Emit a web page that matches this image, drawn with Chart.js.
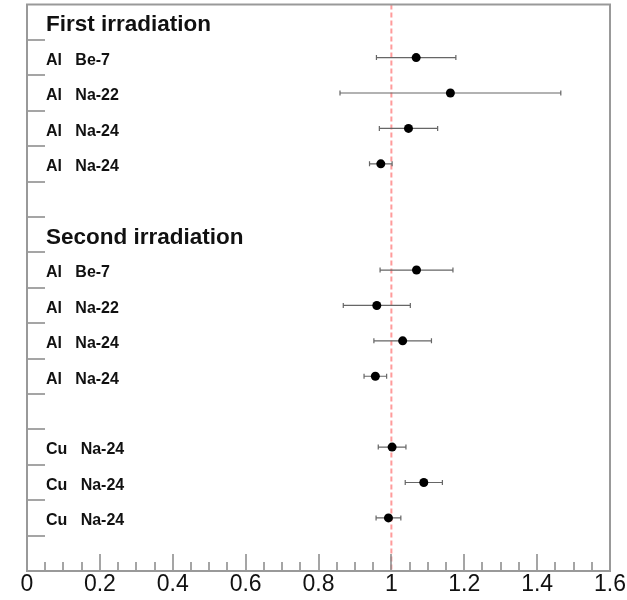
<!DOCTYPE html>
<html>
<head>
<meta charset="utf-8">
<script src="https://cdn.jsdelivr.net/npm/chart.js@4/dist/chart.umd.min.js"></script>
<style>
html,body{margin:0;padding:0;background:#fff;}
#wrap{width:627px;height:600px;position:relative;}
</style>
</head>
<body>
<div id="wrap"><canvas id="c" width="627" height="600"></canvas></div>
<script>
// ---- data ----
const categories = [
  "First irradiation", "Al   Be-7", "Al   Na-22", "Al   Na-24", "Al   Na-24", "",
  "Second irradiation", "Al   Be-7", "Al   Na-22", "Al   Na-24", "Al   Na-24", "",
  "Cu   Na-24", "Cu   Na-24", "Cu   Na-24", ""
];
const headings = ["First irradiation", "Second irradiation"];
const ratios = [null, 1.068, 1.162, 1.047, 0.971, null,
                null, 1.069, 0.960, 1.031, 0.956, null,
                1.002, 1.089, 0.992, null];
const errors = [null, 0.109, 0.303, 0.080, 0.031, null,
                null, 0.100, 0.092, 0.079, 0.031, null,
                0.038, 0.051, 0.034, null];
const xMin = 0, xMax = 1.6, xMajorStep = 0.2, xMinorStep = 0.05;
const referenceValue = 1.0;

// ---- plugins ----
const decor = {
  id: 'decor',
  beforeDatasetsDraw(chart) {
    const {ctx, chartArea: a, scales: {x, y}} = chart;
    ctx.save();
    // reference dashed line
    const rx = x.getPixelForValue(referenceValue);
    ctx.strokeStyle = 'rgba(255,130,130,0.8)';
    ctx.lineWidth = 2;
    ctx.setLineDash([5, 3]);
    ctx.beginPath(); ctx.moveTo(rx, a.top); ctx.lineTo(rx, a.bottom); ctx.stroke();
    ctx.setLineDash([]);
    // error bars
    ctx.strokeStyle = '#666';
    ctx.lineWidth = 1.2;
    ratios.forEach((v, i) => {
      if (v === null) return;
      const py = y.getPixelForValue(i);
      const x1 = x.getPixelForValue(v - errors[i]);
      const x2 = x.getPixelForValue(v + errors[i]);
      ctx.beginPath();
      ctx.moveTo(x1, py); ctx.lineTo(x2, py);
      ctx.moveTo(x1, py - 2.5); ctx.lineTo(x1, py + 2.5);
      ctx.moveTo(x2, py - 2.5); ctx.lineTo(x2, py + 2.5);
      ctx.stroke();
    });
    ctx.restore();
  },
  afterDraw(chart) {
    const {ctx, chartArea: a, scales: {x, y}} = chart;
    ctx.save();
    // inward ticks
    ctx.strokeStyle = '#888';
    ctx.lineWidth = 1.5;
    ctx.beginPath();
    const nMinor = Math.round((xMax - xMin) / xMinorStep);
    for (let k = 1; k < nMinor; k++) {
      const v = xMin + k * xMinorStep;
      const px = Math.round(x.getPixelForValue(v));
      const major = (k % Math.round(xMajorStep / xMinorStep)) === 0;
      ctx.moveTo(px, a.bottom);
      ctx.lineTo(px, a.bottom - (major ? 17 : 9));
    }
    for (let i = 1; i < categories.length; i++) {
      const py = Math.round((y.getPixelForValue(i - 1) + y.getPixelForValue(i)) / 2);
      ctx.moveTo(a.left, py);
      ctx.lineTo(a.left + 18, py);
    }
    ctx.stroke();
    // frame
    ctx.strokeStyle = '#999';
    ctx.lineWidth = 2;
    ctx.strokeRect(a.left, a.top, a.right - a.left, a.bottom - a.top);
    ctx.restore();
  }
};

new Chart(document.getElementById('c'), {
  type: 'line',
  data: {
    labels: categories,
    datasets: [{
      data: ratios,
      showLine: false,
      pointRadius: 4.5,
      pointHoverRadius: 4.5,
      pointBackgroundColor: '#000',
      pointBorderColor: '#000',
      pointBorderWidth: 0
    }]
  },
  options: {
    indexAxis: 'y',
    responsive: false,
    animation: false,
    events: [],
    layout: {padding: {left: 27, top: 4, right: 17, bottom: 1.4}},
    plugins: {legend: {display: false}, tooltip: {enabled: false}},
    scales: {
      x: {
        type: 'linear',
        min: xMin, max: xMax,
        grid: {display: false, drawTicks: false},
        border: {display: false},
        ticks: {
          stepSize: xMajorStep,
          padding: 0,
          color: '#111',
          font: {family: 'Liberation Sans, Arial, sans-serif', size: 23},
          callback: (v) => (Math.round(v * 10) / 10).toString()
        }
      },
      y: {
        type: 'category',
        offset: true,
        grid: {display: false, drawTicks: false},
        border: {display: false},
        afterFit(s) { s.width = 0; s.paddingTop = 0; s.paddingBottom = 0; },
        ticks: {
          mirror: true,
          padding: 19,
          labelOffset: 3,
          color: '#111',
          autoSkip: false,
          font: (ctx) => headings.includes(categories[ctx.index])
            ? {family: 'Liberation Sans, Arial, sans-serif', size: 22.5, weight: 'bold'}
            : {family: 'Liberation Sans, Arial, sans-serif', size: 16, weight: 'bold'}
        }
      }
    }
  },
  plugins: [decor]
});
</script>
</body>
</html>
